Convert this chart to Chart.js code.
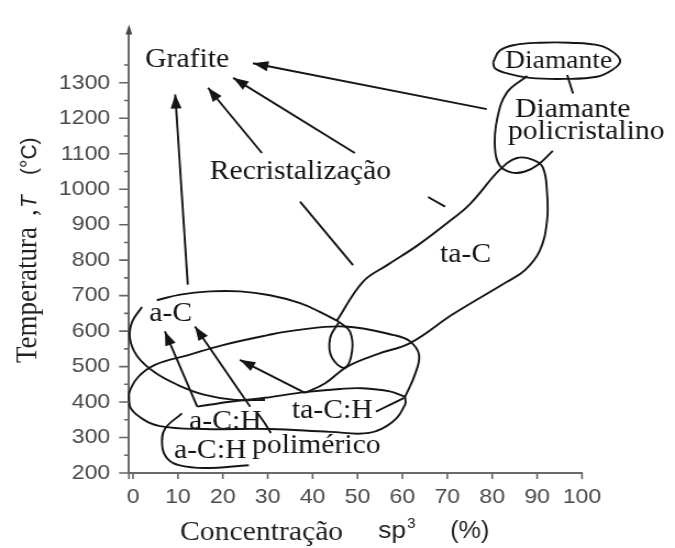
<!DOCTYPE html>
<html>
<head>
<meta charset="utf-8">
<script src="https://cdn.jsdelivr.net/npm/chart.js@4.4.1/dist/chart.umd.min.js"></script>
<style>
    html, body { margin: 0; padding: 0; background: #fff; }
</style>
</head>
<body>
<!-- canvas is drawn 614 wide and stretched to 675 like the scanned figure -->
<canvas id="chart" width="614" height="548" style="display:block;width:675px;height:548px"></canvas>
<script>
// ─── Data (x = sp3 %, y = T °C) ─────────────────────────────────────────────

const xTicks = [0, 10, 20, 30, 40, 50, 60, 70, 80, 90, 100];
const yTicks = [200, 300, 400, 500, 600, 700, 800, 900, 1000, 1100, 1200, 1300];
const yMinorTicks = [250, 350, 450, 550, 650, 750, 850, 950, 1050, 1150, 1250, 1350];

// ta-C region: from the ta-C:H notch, up the right side, round the top, down the left side
const tacX = [38.3, 42.8, 47.7, 54.6, 61.7, 71.3, 83.3, 87.3, 90.6, 92.2, 92.2, 91.3, 89.1, 85.5, 81.7, 75.1, 69.9, 63.3, 56.6, 51.2, 45.4];
const tacY = [426, 453, 500, 536, 566, 648, 739, 772, 827, 910, 992, 1061, 1083, 1088, 1055, 959, 904, 841, 786, 739, 629];

// small loop where ta-C meets a-C
const loopX = [45.9, 43.9, 44.3, 47.2, 48.8, 48.3, 45.9];
const loopY = [626, 580, 525, 497, 544, 599, 626];

// a-C region
const acTopX = [5.3, 10.5, 17.1, 23.8, 30.5, 37.2, 41.6, 45.9];
const acTopY = [687, 703, 712, 712, 701, 679, 654, 626];
const acLeftX = [2.0, -0.2, -0.7, 0.9, 4.9, 10.0, 16.0, 22.7, 29.4];
const acLeftY = [668, 626, 580, 530, 483, 448, 420, 406, 406];

// a-C:H / ta-C:H
const achTopX = [14.3, 21.6, 29.4, 38.3, 46.1, 51.0, 57.2, 60.6];
const achTopY = [387, 401, 412, 428, 437, 439, 430, 415];
const tachX = [60.6, 62.8, 63.7, 61.7, 58.4, 47.2, 36.1, 29.8, 19.8, 12.5, 4.9, 1.1, -0.9, -0.7, 1.6, 6.0, 16.0, 30.5, 43.9, 52.6, 57.7, 60.6, 60.6];
const tachY = [415, 478, 533, 571, 588, 613, 602, 588, 560, 533, 505, 470, 423, 387, 357, 332, 324, 324, 316, 313, 343, 393, 415];
const tailX = [54.1, 57.2, 60.4];
const tailY = [373, 392, 412];
const achEndX = [27.8, 29.2, 30.7];
const achEndY = [368, 343, 313];

// a-C:H polimérico
const polX = [10.9, 7.1, 6.5, 7.6, 10.2, 16.0, 25.8];
const polY = [368, 324, 277, 241, 222, 214, 222];

// Diamante + diamante policristalino
const diaX = [80.2, 81.7, 85.1, 90.6, 97.3, 104.0, 107.1, 108.5, 106.7, 103.3, 96.2, 88.4, 82.9, 80.6, 80.2];
const diaY = [1358, 1391, 1407, 1413, 1413, 1405, 1385, 1360, 1336, 1317, 1311, 1314, 1328, 1341, 1358];
const linkX = [96.7, 98.0];
const linkY = [1322, 1270];
const polyX = [87.8, 83.3, 81.1, 80.6, 81.7, 84.4, 87.3, 90.2, 93.5];
const polyY = [1319, 1273, 1198, 1116, 1066, 1047, 1050, 1069, 1108];

// arrows (tail -> head)
const arrowFromX = [12.2, 28.7, 49.4, 78.8, 14.3, 26.1, 38.3];
const arrowFromY = [731, 1102, 1102, 1226, 387, 387, 426];
const arrowToX = [9.4, 16.7, 22.3, 26.7, 7.1, 13.8, 23.8];
const arrowToY = [1267, 1286, 1314, 1355, 599, 613, 519];

// pieces of the recrystallisation arrows hidden behind the label
const dashFromX = [37.2, 65.7];
const dashFromY = [965, 978];
const dashToX = [49.0, 69.5];
const dashToY = [786, 951];

// labels (left edge, baseline)
const labelText = ["Grafite", "Diamante", "Diamante", "policristalino", "Recristalização", "ta-C", "a-C", "a-C:H", "ta-C:H", "a-C:H", "polimérico"];
const labelX = [2.7, 82.9, 85.1, 83.5, 17.1, 68.4, 3.6, 12.5, 35.4, 9.1, 26.5];
const labelY = [1344, 1341, 1204, 1141, 1028, 794, 629, 324, 354, 241, 255];

// ─── Helpers ────────────────────────────────────────────────────────────────

const SERIF = '"Liberation Serif", "Times New Roman", serif';
const SANS = '"Liberation Sans", Arial, sans-serif';
const INK = "#151515";

function points(xs, ys) {
    return xs.map((x, i) => ({x, y: ys[i]}));
}

function stroke(xs, ys, tension = 0.4) {
    return {
        data: points(xs, ys),
        showLine: true,
        borderColor: INK,
        borderWidth: 1.9,
        pointRadius: 0,
        tension,
        fill: false,
        clip: false,
    };
}

function arrowHead(ctx, fx, fy, tx, ty) {
    const ang = Math.atan2(ty - fy, tx - fx);
    const len = 14, half = 5;
    const bx = tx - len * Math.cos(ang), by = ty - len * Math.sin(ang);
    ctx.beginPath();
    ctx.moveTo(tx, ty);
    ctx.lineTo(bx + half * Math.sin(ang), by - half * Math.cos(ang));
    ctx.lineTo(bx - half * Math.sin(ang), by + half * Math.cos(ang));
    ctx.closePath();
    ctx.fill();
}

function rotatedText(ctx, text, font, x, y) {
    ctx.save();
    ctx.translate(x, y);
    ctx.rotate(-Math.PI / 2);
    ctx.font = font;
    ctx.textAlign = "left";
    ctx.textBaseline = "alphabetic";
    ctx.fillText(text, 0, 0);
    ctx.restore();
}

// ─── Overlay: ticks, arrowheads, labels, axis titles ────────────────────────

const overlay = {
    id: "overlay",
    afterDatasetsDraw(chart) {
        const {ctx, scales: {x, y}, chartArea} = chart;
        const left = chartArea.left, bottom = chartArea.bottom;

        ctx.save();
        ctx.strokeStyle = "#666";
        ctx.lineWidth = 1.6;
        ctx.beginPath();
        for (const v of yTicks) {
            const py = y.getPixelForValue(v);
            ctx.moveTo(left - 9, py);
            ctx.lineTo(left, py);
        }
        for (const v of yMinorTicks) {
            const py = y.getPixelForValue(v);
            ctx.moveTo(left - 4.5, py);
            ctx.lineTo(left, py);
        }
        for (const v of xTicks) {
            const px = x.getPixelForValue(v);
            ctx.moveTo(px, bottom);
            ctx.lineTo(px, bottom + 6);
        }
        // axes poke out a little past the corner
        ctx.moveTo(left - 8, bottom);
        ctx.lineTo(left, bottom);
        ctx.moveTo(left, bottom);
        ctx.lineTo(left, bottom + 6);
        ctx.stroke();

        // arrow tip on top of the T axis
        ctx.fillStyle = "#444";
        ctx.beginPath();
        ctx.moveTo(left, chartArea.top - 5);
        ctx.lineTo(left - 3, chartArea.top + 5);
        ctx.lineTo(left + 3, chartArea.top + 5);
        ctx.closePath();
        ctx.fill();

        ctx.fillStyle = INK;
        for (let i = 0; i < arrowToX.length; i++) {
            arrowHead(ctx,
                x.getPixelForValue(arrowFromX[i]), y.getPixelForValue(arrowFromY[i]),
                x.getPixelForValue(arrowToX[i]), y.getPixelForValue(arrowToY[i]));
        }

        ctx.textAlign = "left";
        ctx.textBaseline = "alphabetic";
        for (let i = 0; i < labelText.length; i++) {
            ctx.font = `${i === 1 ? 25 : 27}px ${SERIF}`;
            ctx.fillText(labelText[i], x.getPixelForValue(labelX[i]), y.getPixelForValue(labelY[i]));
        }

        // axis titles
        ctx.fillStyle = "#222";
        rotatedText(ctx, "Temperatura", `27px ${SERIF}`, 32.7, 363);
        rotatedText(ctx, ",", `27px ${SERIF}`, 32.7, 216);
        rotatedText(ctx, "T", `italic 21px ${SANS}`, 32.7, 208);
        rotatedText(ctx, "(°C)", `21px ${SANS}`, 32.7, 175);

        ctx.font = `27px ${SERIF}`;
        ctx.fillText("Concentração", 163.7, 540);
        ctx.font = `24px ${SANS}`;
        ctx.fillText("sp", 343.9, 538);
        const spW = ctx.measureText("sp").width;
        ctx.font = `14px ${SANS}`;
        ctx.fillText("3", 343.9 + spW + 1, 528);
        ctx.font = `23px ${SANS}`;
        ctx.fillText("(%)", 409.4, 538);
        ctx.restore();
    },
};

// ─── Chart ──────────────────────────────────────────────────────────────────

const datasets = [
    stroke(tacX, tacY),
    stroke(loopX, loopY),
    stroke(acTopX, acTopY),
    stroke(acLeftX, acLeftY),
    stroke(achTopX, achTopY),
    stroke(tachX, tachY),
    stroke(tailX, tailY),
    stroke(achEndX, achEndY),
    stroke(polX, polY),
    stroke(diaX, diaY),
    stroke(linkX, linkY, 0),
    stroke(polyX, polyY),
];
for (let i = 0; i < arrowFromX.length; i++) {
    datasets.push(stroke([arrowFromX[i], arrowToX[i]], [arrowFromY[i], arrowToY[i]], 0));
}
for (let i = 0; i < dashFromX.length; i++) {
    datasets.push(stroke([dashFromX[i], dashToX[i]], [dashFromY[i], dashToY[i]], 0));
}

new Chart(document.getElementById("chart"), {
    type: "scatter",
    data: {datasets},
    options: {
        responsive: false,
        animation: false,
        devicePixelRatio: 1,
        layout: {padding: {left: 0, right: 84.6, top: 18, bottom: 0}},
        plugins: {legend: {display: false}, tooltip: {enabled: false}},
        scales: {
            x: {
                type: "linear",
                min: -0.9,
                max: 100,
                afterBuildTicks: (s) => { s.ticks = xTicks.map((value) => ({value})); },
                afterFit: (s) => { s.height = 75; },
                grid: {display: false, drawTicks: false},
                border: {display: true, color: "#6a6a6a", width: 2},
                ticks: {
                    color: "#4a4a4a",
                    font: {family: SANS, size: 21},
                    padding: 12,
                    maxRotation: 0,
                    autoSkip: false,
                    callback: (v) => String(v),
                },
            },
            y: {
                type: "linear",
                min: 200,
                max: 1450,
                afterBuildTicks: (s) => { s.ticks = yTicks.map((value) => ({value})); },
                afterFit: (s) => { s.width = 117.3; },
                grid: {display: false, drawTicks: false},
                border: {display: true, color: "#6a6a6a", width: 2},
                ticks: {
                    color: "#4a4a4a",
                    font: {family: SANS, size: 21},
                    padding: 17,
                    autoSkip: false,
                    callback: (v) => String(v),
                },
            },
        },
    },
    plugins: [overlay],
});
</script>
</body>
</html>
